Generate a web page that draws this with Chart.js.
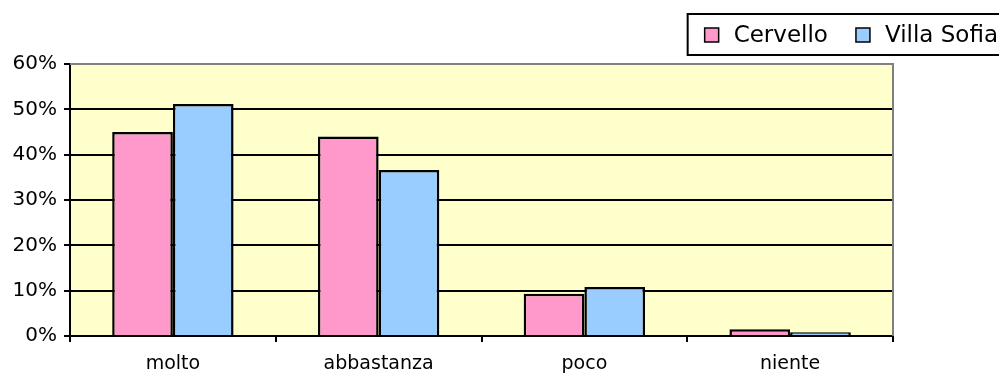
<!DOCTYPE html>
<html>
<head>
<meta charset="utf-8">
<script src="https://cdn.jsdelivr.net/npm/chart.js@4/dist/chart.umd.min.js"></script>
<style>
  html, body { margin: 0; padding: 0; background: #fff; }
  #wrap { width: 999px; height: 374px; position: relative; }
</style>
</head>
<body>
<div id="wrap"><canvas id="chart"></canvas></div>
<script>
const categories = ['molto', 'abbastanza', 'poco', 'niente'];
const cervello = [45, 44, 9.3, 1.5];
const villaSofia = [51.2, 36.6, 10.8, 0.8];
const yTicks = [0, 10, 20, 30, 40, 50, 60];

const FONT = "'DejaVu Sans', sans-serif";

// framed legend at the top right, running off the canvas edge
const boxedLegend = {
  id: 'boxedLegend',
  afterDraw(chart) {
    const ctx = chart.ctx;
    ctx.save();
    ctx.font = '23px ' + FONT;
    ctx.textBaseline = 'middle';
    const sets = chart.data.datasets;
    const sq = 14, gapSq = 15, gapItem = 28;
    let widths = sets.map(d => ctx.measureText(d.label).width);
    let total = widths.reduce((a, b) => a + b, 0) + sets.length * (sq + gapSq) + gapItem * (sets.length - 1);
    let x = 998 - total;
    const top = 14, bottom = 55, mid = 35;
    ctx.lineWidth = 2;
    ctx.strokeStyle = '#000';
    ctx.fillStyle = '#fff';
    ctx.fillRect(x - 17, top, 1010 - (x - 17), bottom - top);
    ctx.strokeRect(x - 17, top, 1010 - (x - 17), bottom - top);
    sets.forEach((d, i) => {
      ctx.fillStyle = d.backgroundColor;
      ctx.fillRect(x, mid - sq / 2, sq, sq);
      ctx.lineWidth = 1.5;
      ctx.strokeRect(x, mid - sq / 2, sq, sq);
      ctx.fillStyle = '#000';
      ctx.fillText(d.label, x + sq + gapSq, mid + 1);
      x += sq + gapSq + widths[i] + gapItem;
    });
    ctx.restore();
  }
};

// pale yellow plot background
const plotBg = {
  id: 'plotBg',
  beforeDraw(chart) {
    const a = chart.chartArea, ctx = chart.ctx;
    ctx.save();
    ctx.fillStyle = '#FFFFCC';
    ctx.fillRect(a.left, a.top, a.right - a.left, a.bottom - a.top);
    ctx.restore();
  },
  afterDatasetsDraw(chart) {
    const a = chart.chartArea, ctx = chart.ctx;
    ctx.save();
    ctx.strokeStyle = '#808080';
    ctx.lineWidth = 2;
    ctx.beginPath();
    ctx.moveTo(a.left, a.top);
    ctx.lineTo(a.right, a.top);
    ctx.lineTo(a.right, a.bottom);
    ctx.stroke();
    ctx.restore();
  }
};

new Chart(document.getElementById('chart'), {
  type: 'bar',
  data: {
    labels: categories,
    datasets: [
      { label: 'Cervello', data: cervello, backgroundColor: '#FF99CC', borderColor: '#000', borderWidth: 2.5 },
      { label: 'Villa Sofia', data: villaSofia, backgroundColor: '#99CCFF', borderColor: '#000', borderWidth: 2.5 }
    ]
  },
  options: {
    responsive: true,
    maintainAspectRatio: false,
    animation: false,
    layout: { padding: { top: 64, right: 106, left: 0, bottom: 0 } },
    datasets: { bar: { categoryPercentage: 0.59, barPercentage: 1 } },
    plugins: { legend: { display: false }, tooltip: { enabled: false } },
    scales: {
      x: {
        grid: { offset: true, drawOnChartArea: false, color: '#000', lineWidth: 2, tickLength: 6 },
        border: { color: '#000', width: 2 },
        ticks: { color: '#000', font: { family: FONT, size: 19 }, padding: 11, maxRotation: 0 },
        afterFit(s) { s.height = 38; }
      },
      y: {
        min: 0,
        max: 60,
        afterBuildTicks(s) { s.ticks = yTicks.map(v => ({ value: v })); },
        grid: { color: '#000', lineWidth: 2, tickLength: 6 },
        border: { color: '#000', width: 2 },
        ticks: { color: '#000', font: { family: FONT, size: 20 }, padding: 7, callback: v => v + '%' },
        afterFit(s) { s.width = 70; }
      }
    }
  },
  plugins: [plotBg, boxedLegend]
});
</script>
</body>
</html>
